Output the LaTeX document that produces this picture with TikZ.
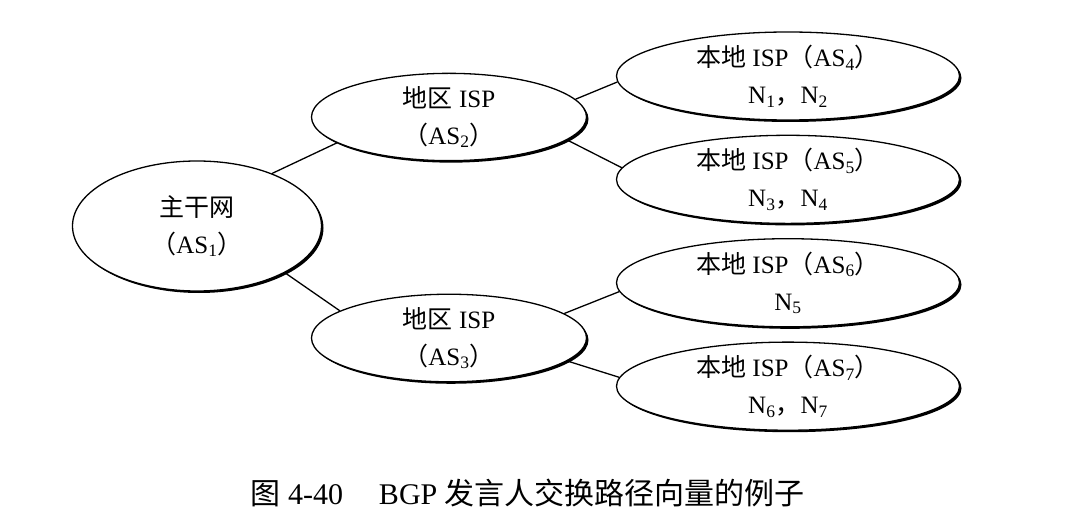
\documentclass[tikz,border=0pt]{standalone}
\usepackage{fontspec}
\setmainfont{Liberation Serif}
\newfontfamily\cjk{Noto Sans CJK SC}
\usetikzlibrary{positioning,shapes.geometric,shadows}
\newcommand{\zh}[1]{{\cjk #1}}

\begin{document}
\begin{tikzpicture}[x=1pt,y=-1pt,
asnode/.style={ellipse,draw,line width=1.3pt,fill=white,inner sep=0pt,align=center,
  font=\fontsize{25}{37}\selectfont,
  drop shadow={shadow xshift=2pt,shadow yshift=-2pt,opacity=1,fill=black}},
bbnode/.style={asnode,minimum width=249pt,minimum height=130pt},
ispnode/.style={asnode,minimum width=275pt,minimum height=81pt},
localisp/.style={asnode,minimum width=343pt,minimum height=88pt},
link/.style={line width=1.3pt}]
\useasboundingbox (0,0) rectangle (1083,521);
\node[bbnode] (as1) at (197,226) {\zh{主干网}\\\zh{（}AS\textsubscript{1}\zh{）}};
\node[ispnode] (as2) at (449,117) {\zh{地区} ISP\\\zh{（}AS\textsubscript{2}\zh{）}};
\node[ispnode] (as3) at (449,338) {\zh{地区} ISP\\\zh{（}AS\textsubscript{3}\zh{）}};
\node[localisp] (as4) at (788,76) {\zh{本地} ISP\zh{（}AS\textsubscript{4}\zh{）}\\N\textsubscript{1}\zh{，}N\textsubscript{2}};
\node[localisp,below=14pt of as4] (as5) {\zh{本地} ISP\zh{（}AS\textsubscript{5}\zh{）}\\N\textsubscript{3}\zh{，}N\textsubscript{4}};
\node[localisp,below=14pt of as5] (as6) {\zh{本地} ISP\zh{（}AS\textsubscript{6}\zh{）}\\N\textsubscript{5}};
\node[localisp,below=14pt of as6] (as7) {\zh{本地} ISP\zh{（}AS\textsubscript{7}\zh{）}\\N\textsubscript{6}\zh{，}N\textsubscript{7}};
% links
\draw[link] (as1.35) -- (as2.193);
\draw[link] (as1.-28) -- (as3.166);
\draw[link] (as2.8) -- (as4.182);
\draw[link] (as2.-11) -- (as5.176);
\draw[link] (as3.12) -- (as6.183);
\draw[link] (as3.-11) -- (as7.177);
\node[anchor=west,font=\fontsize{30}{30}\selectfont] (cap) at (247,493) {\zh{图} 4-40\hspace{1.2em}BGP \zh{发言人交换路径向量的例子}};
\end{tikzpicture}
\end{document}
